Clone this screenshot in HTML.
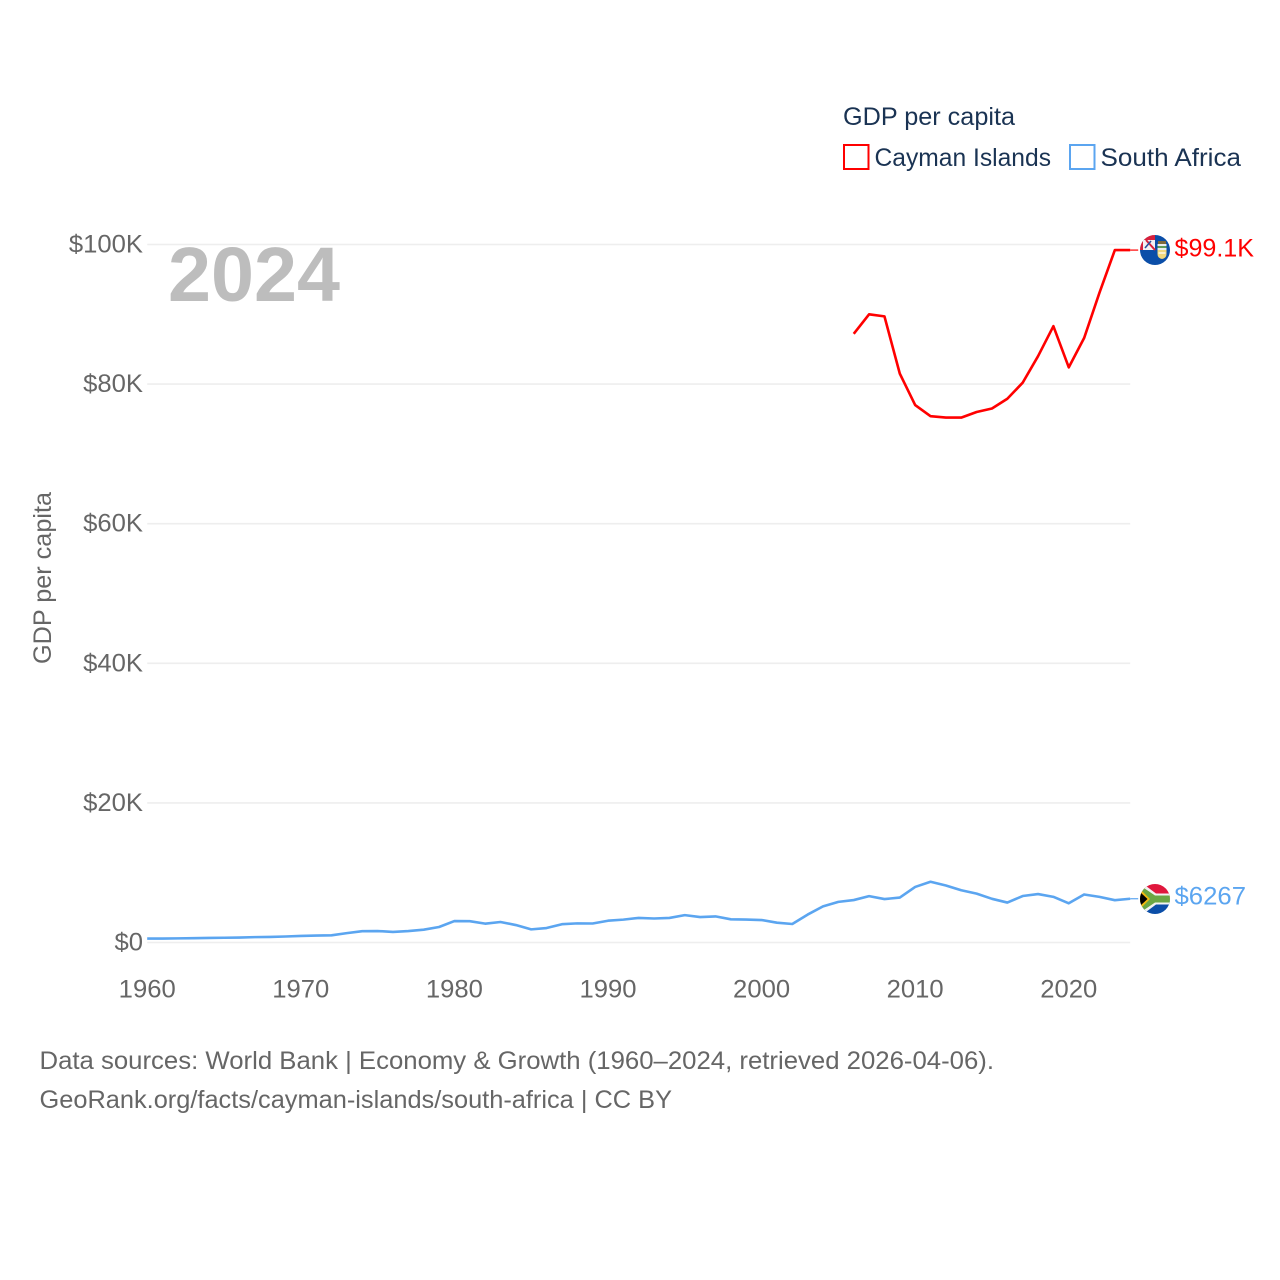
<!DOCTYPE html>
<html lang="en">
<head>
<meta charset="utf-8">
<title>GDP per capita: Cayman Islands and South Africa</title>
<style>
html,body{margin:0;padding:0;background:#fff;}
svg{display:block;font-family:"Liberation Sans",sans-serif;}
</style>
</head>
<body>
<svg id="chart" width="1280" height="1280" viewBox="0 0 1280 1280" xmlns="http://www.w3.org/2000/svg">
  <defs>
    <clipPath id="clip-cayman"><circle cx="1155" cy="250" r="15"/></clipPath>
    <clipPath id="clip-sa"><circle cx="1155" cy="899" r="15"/></clipPath>
  </defs>
  <rect width="1280" height="1280" fill="#fff"/>
  <g id="grid"></g>
  <g id="y-ticks"></g>
  <g id="x-ticks"></g>
  <text transform="translate(51,664) rotate(-90)" font-size="25" fill="#666" textLength="172" lengthAdjust="spacingAndGlyphs">GDP per capita</text>
  <text x="168" y="301" font-size="77" font-weight="700" fill="#bdbdbd" textLength="172" lengthAdjust="spacingAndGlyphs">2024</text>
  <g id="series"></g>

  <g>
    <text x="843" y="125" font-size="25" fill="#1a3353" textLength="172" lengthAdjust="spacingAndGlyphs">GDP per capita</text>
    <g>
      <rect x="844" y="145" width="24.5" height="24" fill="#fff" stroke="#ff0000" stroke-width="2"/>
      <text x="874.5" y="166" font-size="25" fill="#1a3353" textLength="176.5" lengthAdjust="spacingAndGlyphs">Cayman Islands</text>
    </g>
    <g>
      <rect x="1070" y="145" width="24.5" height="24" fill="#fff" stroke="#5ba5f0" stroke-width="2"/>
      <text x="1100.5" y="166" font-size="25" fill="#1a3353" textLength="140.5" lengthAdjust="spacingAndGlyphs">South Africa</text>
    </g>
  </g>

  <g clip-path="url(#clip-cayman)">
    <rect x="1140" y="235" width="30" height="30" fill="#0b4ea8"/>
    <rect x="1140" y="235" width="15" height="15" fill="#f4f0f2"/>
    <rect x="1140" y="235" width="15" height="5" fill="#d8203c"/>
    <rect x="1140" y="235" width="3" height="15" fill="#d8203c"/>
    <path d="M1146 240 L1155 250" stroke="#d8203c" stroke-width="2"/>
    <path d="M1145 248 L1151 241" stroke="#2a4f9c" stroke-width="1.6"/>
    <rect x="1158" y="241" width="8" height="3" fill="#7d6a3c"/>
    <rect x="1157.5" y="244" width="9" height="6" fill="#e9eef0"/>
    <rect x="1157.5" y="246" width="9" height="2" fill="#5f9a5a"/>
    <path d="M1157.5 250 H1166.5 V254 Q1166.5 258 1162 259 Q1157.5 258 1157.5 254 Z" fill="#f1d77c"/>
    <path d="M1158.5 253 H1165.5" stroke="#ffffff" stroke-width="1.2"/>
  </g>
  <g clip-path="url(#clip-sa)">
    <rect x="1140" y="884" width="30" height="15" fill="#e0173d"/>
    <rect x="1140" y="899" width="30" height="15" fill="#0b4ea8"/>
    <path d="M1140 881.5 L1156 893.5 H1170 V904.5 H1156 L1140 916.5 Z" fill="#f2f2f2"/>
    <path d="M1138 884 L1155 895.5 H1170 V902.5 H1155 L1138 914 Z" fill="#6ba644"/>
    <path d="M1140 889 L1150 899 L1140 909 Z" fill="#f2b90f"/>
    <path d="M1140 892 L1147.5 899 L1140 906 Z" fill="#000"/>
  </g>
  <text x="1174.5" y="256.5" font-size="25" fill="#ff0000" textLength="79.5" lengthAdjust="spacingAndGlyphs">$99.1K</text>
  <text x="1174.5" y="904.5" font-size="25" fill="#5ba5f0" textLength="71.5" lengthAdjust="spacingAndGlyphs">$6267</text>

  <text x="39.5" y="1069" font-size="25" fill="#666" textLength="954.5" lengthAdjust="spacingAndGlyphs">Data sources: World Bank | Economy &amp; Growth (1960–2024, retrieved 2026-04-06).</text>
  <text x="39.5" y="1108" font-size="25" fill="#666" textLength="632.5" lengthAdjust="spacingAndGlyphs">GeoRank.org/facts/cayman-islands/south-africa | CC BY</text>
</svg>
<script>
const startYear = 1960;
const endYear = 2024;
const caymanStartYear = 2006;
const caymanValues = [87.2, 90.0, 89.7, 81.5, 77.0, 75.4, 75.2, 75.2, 76.0, 76.5, 77.9, 80.2, 84.0, 88.3, 82.4, 86.6, 93.1, 99.2, 99.2];
const southAfricaValues = [0.56, 0.57, 0.59, 0.62, 0.65, 0.68, 0.71, 0.77, 0.80, 0.86, 0.94, 1.00, 1.03, 1.34, 1.62, 1.64, 1.52, 1.64, 1.84, 2.22, 3.07, 3.05, 2.70, 2.94, 2.50, 1.88, 2.07, 2.62, 2.74, 2.72, 3.12, 3.28, 3.52, 3.44, 3.52, 3.92, 3.64, 3.74, 3.32, 3.28, 3.22, 2.84, 2.65, 4.00, 5.18, 5.82, 6.08, 6.64, 6.22, 6.44, 7.96, 8.70, 8.16, 7.48, 7.00, 6.26, 5.72, 6.66, 6.94, 6.54, 5.62, 6.88, 6.54, 6.06, 6.27];
const yTickValues = [0, 20, 40, 60, 80, 100];
const yTickLabels = ["$0", "$20K", "$40K", "$60K", "$80K", "$100K"];
const xTickValues = [1960, 1970, 1980, 1990, 2000, 2010, 2020];

const NS = "http://www.w3.org/2000/svg";
const plotLeft = 147.2, plotRight = 1130.2, plotTop = 244.5, plotBottom = 942.5;
function xScale(year) { return plotLeft + (year - startYear) / (endYear - startYear) * (plotRight - plotLeft); }
function yScale(v) { return plotBottom - v / 100 * (plotBottom - plotTop); }
function make(tag, attrs) {
  const el = document.createElementNS(NS, tag);
  for (const k in attrs) el.setAttribute(k, attrs[k]);
  return el;
}
function widen(t, factor) {
  t.setAttribute("textLength", (t.getComputedTextLength() * factor).toFixed(2));
  t.setAttribute("lengthAdjust", "spacingAndGlyphs");
}
const gridG = document.getElementById("grid");
const yG = document.getElementById("y-ticks");
const xG = document.getElementById("x-ticks");
const seriesG = document.getElementById("series");

yTickValues.forEach(function (v, i) {
  const line = make("line", { x1: plotLeft, x2: plotRight, y1: yScale(v), y2: yScale(v), stroke: "#eeeeee", "stroke-width": 1.6 });
  
  
  gridG.appendChild(line);
  const t = make("text", { x: 143, y: yScale(v) + 8, "text-anchor": "end", "font-size": 25, fill: "#666" });
  
  
  t.textContent = yTickLabels[i];
  yG.appendChild(t);
  widen(t, 1.025);
});
xTickValues.forEach(function (year) {
  const t = make("text", { x: xScale(year), y: 997.5, "text-anchor": "middle", "font-size": 25, fill: "#666" });
  
  
  t.textContent = String(year);
  xG.appendChild(t);
  widen(t, 1.025);
});
function linePoints(values, firstYear) {
  return values.map(function (v, i) { return xScale(firstYear + i).toFixed(2) + "," + yScale(v).toFixed(2); }).join(" ");
}
const saLine = make("polyline", { points: linePoints(southAfricaValues, startYear), fill: "none", stroke: "#5ba5f0", "stroke-width": 2.6, "stroke-linejoin": "round" });


seriesG.appendChild(saLine);
const caLine = make("polyline", { points: linePoints(caymanValues, caymanStartYear), fill: "none", stroke: "#ff0000", "stroke-width": 2.6, "stroke-linejoin": "round" });


seriesG.appendChild(caLine);
const saLast = southAfricaValues[southAfricaValues.length - 1];
const caLast = caymanValues[caymanValues.length - 1];
const saConn = make("line", { x1: plotRight, x2: plotRight + 8, y1: yScale(saLast), y2: yScale(saLast), stroke: "#5ba5f0", "stroke-width": 1.2 });


seriesG.appendChild(saConn);
const caConn = make("line", { x1: plotRight, x2: plotRight + 8, y1: yScale(caLast), y2: yScale(caLast), stroke: "#ff0000", "stroke-width": 1.2 });


seriesG.appendChild(caConn);
</script>
</body>
</html>
